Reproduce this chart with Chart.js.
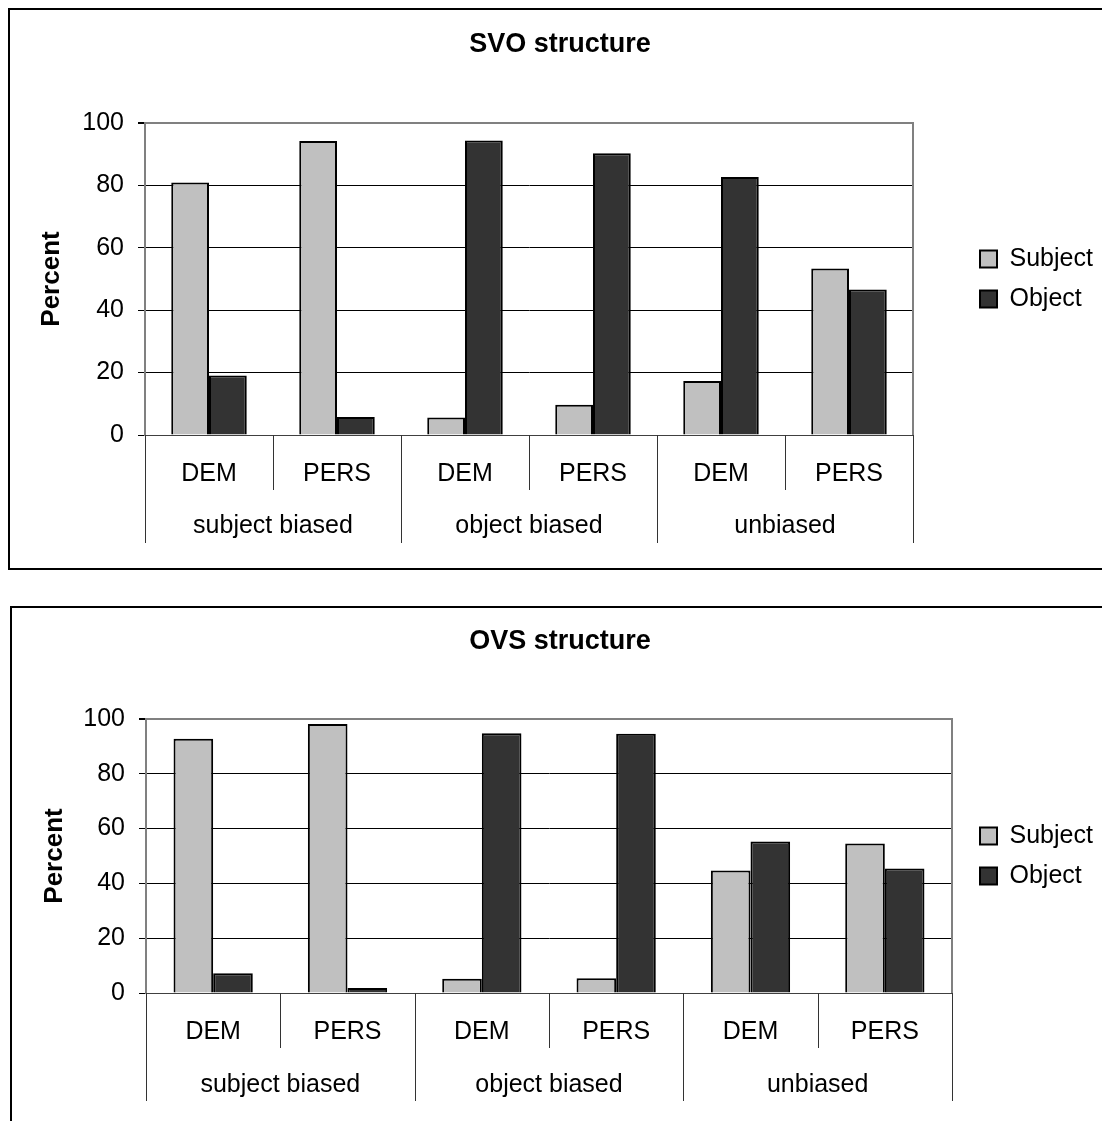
<!DOCTYPE html>
<html>
<head>
<meta charset="utf-8">
<script src="https://cdn.jsdelivr.net/npm/chart.js@4.4.1/dist/chart.umd.min.js"></script>
<style>
  html, body { margin: 0; padding: 0; background: #fff; width: 1102px; height: 1121px; overflow: hidden; position: relative; }
  .box { position: absolute; border: 2px solid #000; box-sizing: border-box; }
  canvas { position: absolute; }
</style>
</head>
<body>
<div class="box" style="left:8px; top:8px; width:1200px; height:562px;"></div>
<div class="box" style="left:10px; top:606px; width:1200px; height:600px;"></div>
<canvas id="c1" width="1070" height="575" style="left:25px; top:0px;"></canvas>
<canvas id="c2" width="1070" height="531" style="left:25px; top:590px;"></canvas>
<script>
// ---- data ----
const groups = ['subject biased', 'object biased', 'unbiased'];
const subcats = ['DEM', 'PERS'];
const seriesNames = ['Subject', 'Object'];
const yTicks = [0, 20, 40, 60, 80, 100];

const svoTitle = 'SVO structure';
const svoSubject = [80.9, 94.2, 5.6, 9.7, 17.3, 53.4];
const svoObject  = [19.1, 5.8, 94.4, 90.3, 82.7, 46.6];

const ovsTitle = 'OVS structure';
const ovsSubject = [92.8, 98.2, 5.2, 5.4, 44.7, 54.6];
const ovsObject  = [7.2, 1.8, 94.8, 94.6, 55.3, 45.4];

const labels = [];
groups.forEach(() => subcats.forEach(s => labels.push(s)));

Chart.defaults.font.family = "'Liberation Sans', Arial, sans-serif";
Chart.defaults.color = '#000';

const FONT = "'Liberation Sans', Arial, sans-serif";

const xDividers = {
  id: 'xDividers',
  afterDraw(chart, args, opts) {
    const { ctx, chartArea, scales: { x, y } } = chart;
    const n = labels.length;
    const step = x.getPixelForValue(1) - x.getPixelForValue(0);
    const left = x.getPixelForValue(0) - step / 2;
    const base = y.getPixelForValue(0);
    ctx.save();
    // right plot border
    ctx.strokeStyle = '#808080';
    ctx.lineWidth = 2;
    ctx.beginPath();
    ctx.moveTo(chartArea.right, chartArea.top - 1);
    ctx.lineTo(chartArea.right, base);
    ctx.stroke();
    // category dividers
    ctx.strokeStyle = '#333';
    ctx.lineWidth = 1;
    for (let k = 0; k <= n; k++) {
      const px = Math.round(left + k * step) + 0.5;
      const len = (k % subcats.length === 0) ? opts.longLen : opts.shortLen;
      ctx.beginPath();
      ctx.moveTo(px, base);
      ctx.lineTo(px, base + len);
      ctx.stroke();
    }
    // group labels
    ctx.fillStyle = '#000';
    ctx.font = '25px ' + FONT;
    ctx.textAlign = 'center';
    ctx.textBaseline = 'middle';
    groups.forEach((g, i) => {
      const cx = left + (i * subcats.length + subcats.length / 2) * step;
      ctx.fillText(g, cx, base + opts.groupY);
    });
    ctx.restore();
  }
};

function makeChart(id, cfg) {
  return new Chart(document.getElementById(id), {
    type: 'bar',
    data: {
      labels: labels,
      datasets: [
        { label: seriesNames[0], data: cfg.subject, backgroundColor: '#c0c0c0', borderColor: '#000', borderWidth: 2, yAxisID: 'y' },
        { label: seriesNames[1], data: cfg.object, backgroundColor: '#333333', borderColor: '#000', borderWidth: 2, yAxisID: 'y' }
      ]
    },
    options: {
      responsive: false,
      animation: false,
      events: [],
      datasets: { bar: { categoryPercentage: 0.59, barPercentage: 1.0 } },
      layout: { padding: { left: 0, right: 0, top: 0, bottom: cfg.padBottom } },
      plugins: {
        title: {
          display: true, text: cfg.title, color: '#000',
          font: { size: 27, weight: 'bold', family: FONT },
          padding: { top: cfg.titleTop, bottom: cfg.titleBottom }
        },
        legend: {
          display: true, position: 'right', fullSize: false, maxWidth: 130, align: 'center',
          labels: { boxWidth: 17, boxHeight: 17, padding: 15, color: '#000', font: { size: 25, family: FONT } }
        },
        tooltip: { enabled: false },
        xDividers: { shortLen: 55, longLen: 108, groupY: cfg.groupY }
      },
      scales: {
        x: {
          type: 'category', offset: true,
          grid: { display: false, drawTicks: false },
          border: { display: true, color: '#404040', width: 1 },
          ticks: { color: '#000', font: { size: 25, family: FONT }, padding: cfg.tickPad, maxRotation: 0, autoSkip: false },
          afterFit: s => { s.height = 120; }
        },
        y: {
          position: 'left', min: 0, max: 100,
          afterBuildTicks: s => { s.ticks = yTicks.map(v => ({ value: v })); },
          grid: {
            color: c => (c.tick && c.tick.value === 100) ? '#808080' : '#000',
            lineWidth: c => (c.tick && c.tick.value === 100) ? 2 : 1,
            tickColor: '#000', tickLength: 7, drawTicks: true
          },
          border: { display: true, color: '#808080', width: 2 },
          ticks: { color: '#000', font: { size: 25, family: FONT }, padding: 14 },
          title: { display: true, text: 'Percent', color: '#000', font: { size: 26, weight: 'bold', family: FONT }, padding: { top: cfg.yTitlePad, bottom: 0 } },
          afterFit: s => { s.width = cfg.yWidth; }
        },
        yR: {
          position: 'right', display: true,
          grid: { display: false, drawTicks: false },
          border: { display: false },
          ticks: { display: false },
          afterFit: s => { s.width = cfg.rWidth; }
        }
      }
    },
    plugins: [xDividers]
  });
}

makeChart('c1', {
  title: svoTitle, subject: svoSubject, object: svoObject,
  titleTop: 28.8, titleBottom: 61.8, padBottom: 20,
  yWidth: 120, rWidth: 52, yTitlePad: 11.4, tickPad: 24, groupY: 91.5
});
makeChart('c2', {
  title: ovsTitle, subject: ovsSubject, object: ovsObject,
  titleTop: 35.8, titleBottom: 60.8, padBottom: 8,
  yWidth: 121, rWidth: 13, yTitlePad: 14.4, tickPad: 24.5, groupY: 92
});
</script>
</body>
</html>
